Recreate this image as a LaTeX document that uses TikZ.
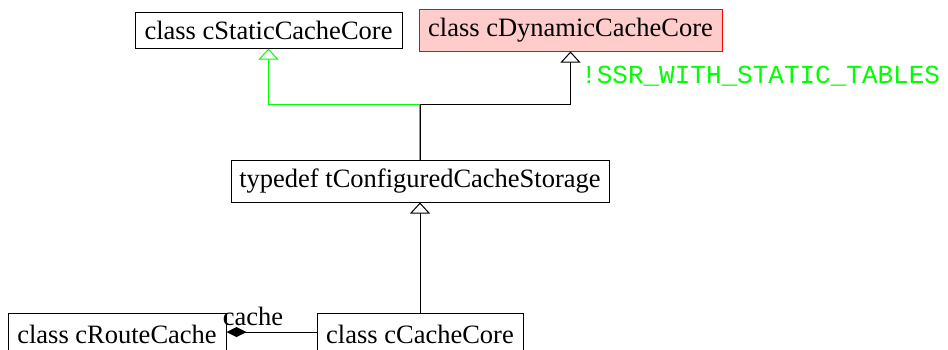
\documentclass[tikz,border=0pt]{standalone}
\usepackage{fontspec}
\setmainfont{Liberation Serif}
\newfontfamily\monofont{Liberation Mono}
\usetikzlibrary{arrows.meta}
\definecolor{limeline}{RGB}{0,255,0}
\definecolor{pinkfill}{RGB}{255,204,204}
\definecolor{redline}{RGB}{255,0,0}
\begin{document}
\begin{tikzpicture}[x=1pt,y=-1pt,
  classbox/.style={draw=black, line width=1pt, inner sep=0pt, minimum height=42pt,
    font=\fontsize{26.5}{30}\selectfont},
  inherit/.style={-{Triangle[open,width=20pt,length=11pt,line width=1pt]}, line width=1pt},
  gline/.style={draw=limeline, line width=1pt},
  bline/.style={draw=black, line width=1pt}]
\useasboundingbox (0,0) rectangle (948,349);

% class nodes
\node[classbox, minimum width=267pt, minimum height=36pt] (static) at (268.5,30) {class cStaticCacheCore};
\node[classbox, draw=redline, fill=pinkfill, minimum width=303pt] (dynamic) at (570.5,30) {class cDynamicCacheCore};
\node[classbox, minimum width=378pt] (typedef) at (420,181) {typedef tConfiguredCacheStorage};
\node[classbox, minimum width=218pt] (route) at (117,334) {class cRouteCache};
\node[classbox, minimum width=206pt] (core) at (420,334) {class cCacheCore};

% conditional inheritance to the static core (green)
\coordinate (gstub) at (496,104);
\draw[gline] ([xshift=-1pt]typedef.north) -- ([xshift=-1pt]typedef.north |- gstub);
\draw[gline, inherit, draw=limeline] (gstub) -- (gstub -| static.south) -- (static.south);

% inheritance to the dynamic core
\draw[bline, inherit] (typedef.north) -- ++(0,-55) -| (dynamic.south);
\node[anchor=west, text=limeline, inner sep=0pt, font=\monofont\fontsize{26}{30}\selectfont]
  (cond) at (581,76) {!SSR\_WITH\_STATIC\_TABLES};

% cCacheCore derives from the typedef
\draw[bline, inherit] (core.north) -- (typedef.south);

% composition: cRouteCache holds a cCacheCore as "cache"
\coordinate (cjoin) at (317,332);
\draw[bline, -{Diamond[width=10pt,length=20pt]}] (cjoin) -- (cjoin -| route.east);
\node[inner sep=0pt, font=\fontsize{26.5}{30}\selectfont] (cachelbl) at (253,316) {cache};
\end{tikzpicture}
\end{document}
